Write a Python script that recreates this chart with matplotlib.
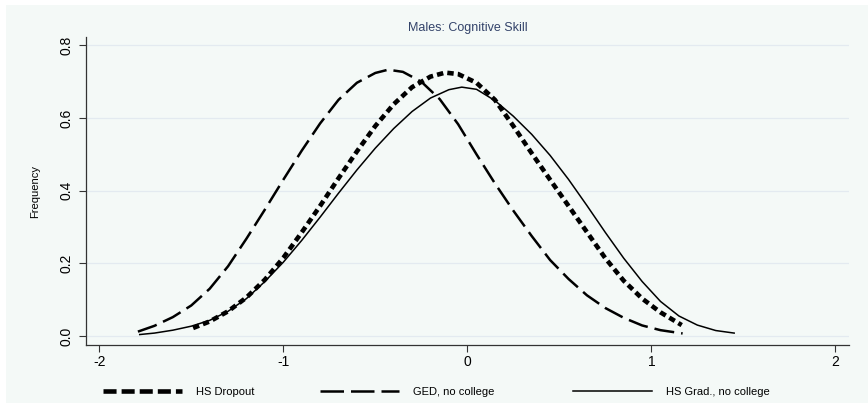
import matplotlib
matplotlib.use("Agg")
import matplotlib.pyplot as plt
from matplotlib.patches import Rectangle
from matplotlib.lines import Line2D

# values
dropout_x = [-1.49, -1.4, -1.3, -1.2, -1.1, -1.0, -0.9, -0.8, -0.7, -0.6, -0.5, -0.4,
             -0.3, -0.2, -0.12, -0.05, 0.05, 0.15, 0.25, 0.35, 0.45, 0.55, 0.65,
             0.75, 0.85, 0.95, 1.05, 1.165]
dropout_y = [0.022, 0.040, 0.068, 0.106, 0.155, 0.215, 0.285, 0.358, 0.434, 0.508,
             0.578, 0.638, 0.685, 0.714, 0.725, 0.721, 0.697, 0.650, 0.578, 0.503,
             0.430, 0.358, 0.286, 0.214, 0.152, 0.103, 0.065, 0.030]

ged_x = [-1.79, -1.7, -1.6, -1.5, -1.4, -1.3, -1.2, -1.1, -1.0, -0.9, -0.8, -0.7,
         -0.6, -0.5, -0.43, -0.35, -0.25, -0.15, -0.05, 0.05, 0.15, 0.25, 0.35,
         0.45, 0.55, 0.65, 0.75, 0.85, 0.95, 1.05, 1.17]
ged_y = [0.012, 0.028, 0.052, 0.084, 0.130, 0.192, 0.268, 0.348, 0.430, 0.510,
         0.585, 0.650, 0.697, 0.724, 0.733, 0.727, 0.700, 0.652, 0.583, 0.500,
         0.420, 0.345, 0.275, 0.209, 0.157, 0.112, 0.077, 0.050, 0.029, 0.016, 0.007]

grad_x = [-1.78, -1.7, -1.6, -1.5, -1.4, -1.3, -1.2, -1.1, -1.0, -0.9, -0.8, -0.7,
          -0.6, -0.5, -0.4, -0.3, -0.2, -0.1, -0.03, 0.05, 0.15, 0.25, 0.35, 0.45,
          0.55, 0.65, 0.75, 0.85, 0.95, 1.05, 1.15, 1.25, 1.35, 1.45]
grad_y = [0.004, 0.008, 0.016, 0.027, 0.043, 0.068, 0.103, 0.150, 0.203, 0.263,
          0.327, 0.393, 0.457, 0.517, 0.571, 0.618, 0.655, 0.678, 0.685, 0.679,
          0.648, 0.605, 0.555, 0.497, 0.431, 0.359, 0.285, 0.214, 0.150, 0.095,
          0.055, 0.030, 0.015, 0.008]

labels = ["HS Dropout", "GED, no college", "HS Grad., no college"]
xticks = [-2, -1, 0, 1, 2]
yticks = [0.0, 0.2, 0.4, 0.6, 0.8]

plt.rcParams["font.family"] = ["Liberation Sans", "DejaVu Sans"]

bg = "#f4f9f7"
fig = plt.figure(figsize=(8.68, 4.08), dpi=100)
fig.patch.set_facecolor("white")
fig.patches.append(Rectangle((6 / 868, 5 / 408), 862 / 868, 398 / 408,
                             transform=fig.transFigure, facecolor=bg,
                             edgecolor="none", zorder=-10))

ax = fig.add_axes([86 / 868, 1 - 345 / 408, 763 / 868, 308 / 408])
ax.set_facecolor(bg)

ax.plot(dropout_x, dropout_y, color="black", lw=3.3, dashes=(1.4, 0.9))
ax.plot(ged_x, ged_y, color="black", lw=1.8, dashes=(8, 2.8))
ax.plot(grad_x, grad_y, color="black", lw=1.1)

ax.set_xlim(-2.072, 2.074)
ax.set_ylim(-0.0248, 0.823)
ax.set_xticks(xticks)
ax.set_xticklabels([str(v) for v in xticks])
ax.set_yticks(yticks)
ax.set_yticklabels([f"{v:.1f}" for v in yticks], rotation=90, va="center")
ax.tick_params(direction="out", length=5, width=0.8, labelsize=10, color="#333333")
ax.tick_params(axis="x", pad=2)
ax.tick_params(axis="y", pad=4)

for s in ["top", "right"]:
    ax.spines[s].set_visible(False)
for s in ["left", "bottom"]:
    ax.spines[s].set_linewidth(0.9)
    ax.spines[s].set_color("#333333")

ax.yaxis.grid(True, color="#e3eaf0", lw=0.9)
ax.set_axisbelow(True)

ax.set_ylabel("Frequency", fontsize=8)
ax.yaxis.set_label_coords(-0.06, 0.5)

fig.text(467.5 / 868, 1 - 28 / 408, "Males: Cognitive Skill", fontsize=9,
         color="#33436a", ha="center", va="center")

# legend: three entries at the bottom, handles drawn with the legend's longer dashes
handles = [Line2D([], [], color="black", lw=3.3, dashes=(2.85, 1.1)),
           Line2D([], [], color="black", lw=1.8, dashes=(9.4, 2.8)),
           Line2D([], [], color="black", lw=1.1)]
starts = [103, 320, 573]
for h, lab, sx in zip(handles, labels, starts):
    fig.legend([h], [lab], loc="center left", bbox_to_anchor=(sx / 868, 1 - 392 / 408),
               frameon=False, fontsize=8, handlelength=7.1, handletextpad=1.3,
               borderpad=0, borderaxespad=0)

fig.savefig("out.png", dpi=100, facecolor=fig.get_facecolor())
